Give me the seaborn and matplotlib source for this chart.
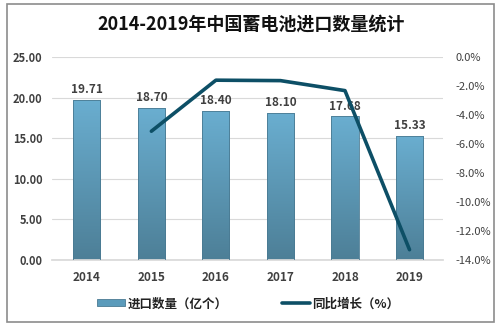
import numpy as np
import pandas as pd
import matplotlib
matplotlib.use("Agg")
import matplotlib.pyplot as plt
import seaborn as sns
from matplotlib.patches import Rectangle, Patch
from matplotlib.lines import Line2D
from matplotlib.colors import LinearSegmentedColormap

years = ["2014", "2015", "2016", "2017", "2018", "2019"]
volume = [19.71, 18.70, 18.40, 18.10, 17.68, 15.33]
growth_years = ["2015", "2016", "2017", "2018", "2019"]
growth = [-5.12, -1.60, -1.63, -2.32, -13.29]
title = "2014-2019年中国蓄电池进口数量统计"
bar_label = "进口数量（亿个）"
line_label = "同比增长（%）"

sns.set_theme(style="white")
plt.rcParams['font.family'] = ['Noto Sans CJK SC', 'DejaVu Sans']

fig = plt.figure(figsize=(5.02, 3.26), dpi=100)
ax = fig.add_axes([0.1036, 0.2025, 0.779, 0.6227])

df = pd.DataFrame({"year": years, "volume": volume})
sns.barplot(data=df, x="year", y="volume", ax=ax, width=0.42, color="#5b9bbb",
            edgecolor="#4a7a92", linewidth=0.6, zorder=2)

ax.set_ylim(0, 25)
ax.set_xlim(-0.54, 5.52)
ax.set_yticks(np.arange(0, 26, 5))
ax.set_yticklabels([f"{v:.2f}" for v in np.arange(0, 26, 5)])
ax.yaxis.grid(True, color="#d9d9d9", linewidth=0.8, zorder=0)
ax.set_axisbelow(True)
for s in ax.spines.values():
    s.set_visible(False)
ax.spines['bottom'].set_visible(True)
ax.spines['bottom'].set_color("#d9d9d9")
ax.set_xlabel("")
ax.set_ylabel("")
ax.tick_params(axis='x', length=0, labelsize=8.5, labelcolor="#404040", pad=8)
ax.tick_params(axis='y', length=0, labelsize=8, labelcolor="#404040", pad=7)
for lab in ax.get_xticklabels() + ax.get_yticklabels():
    lab.set_fontweight("bold")

# gradient fill for bars
cmap = LinearSegmentedColormap.from_list("g", ["#4d7f97", "#6aaed0"])
grad = np.linspace(0, 1, 256).reshape(-1, 1)
for p in ax.patches:
    x0, y0 = p.get_x(), p.get_y()
    w, h = p.get_width(), p.get_height()
    im = ax.imshow(grad, cmap=cmap, origin="lower", aspect="auto",
                   extent=[x0, x0 + w, y0, y0 + h], zorder=2.5)
    im.set_clip_path(p)
    p.set_facecolor("none")
    p.set_zorder(3)
    ax.text(x0 + w / 2, h + 0.45, f"{h:.2f}", ha="center", va="bottom",
            fontsize=8.5, fontweight="bold", color="#404040", zorder=5)

ax.set_xlim(-0.54, 5.52)
ax.set_ylim(0, 25)

ax2 = ax.twinx()
gdf = pd.DataFrame({"x": [years.index(y) for y in growth_years], "g": growth})
sns.lineplot(data=gdf, x="x", y="g", ax=ax2, color="#0d4f66", linewidth=2.6, zorder=6)
ax2.set_ylim(-14, 0)
ax2.set_yticks(np.arange(-14, 0.1, 2))
ax2.set_yticklabels([f"{v:.1f}%" for v in np.arange(-14, 0.1, 2)])
ax2.set_xlim(-0.54, 5.52)
ax2.set_ylabel("")
ax2.set_xlabel("")
for s in ax2.spines.values():
    s.set_visible(False)
ax2.tick_params(axis='y', length=0, labelsize=8, labelcolor="#404040", pad=9)
ax2.grid(False)

# title
fig.text(0.5, 0.925, title, ha="center", va="center", fontsize=13,
         fontweight="bold", color="#111111")

# legend
handles = [Patch(facecolor="#5b9bbb", edgecolor="#4a7a92", linewidth=0.6),
           Line2D([0], [0], color="#0d4f66", linewidth=2.6)]
leg = fig.legend(handles, [bar_label, line_label], loc="center",
                 bbox_to_anchor=(0.495, 0.068), ncol=2, frameon=False,
                 fontsize=9, handlelength=2.2, handleheight=0.5,
                 columnspacing=4.4, handletextpad=0.2)
for t in leg.get_texts():
    t.set_fontweight("bold")
    t.set_color("#222222")

# outer border
fig.patches.append(Rectangle((7 / 502, 4 / 326), 487 / 502, 318 / 326,
                             transform=fig.transFigure, fill=False,
                             edgecolor="#8c8c8c", linewidth=1.2))

fig.savefig("out.png", dpi=100)
